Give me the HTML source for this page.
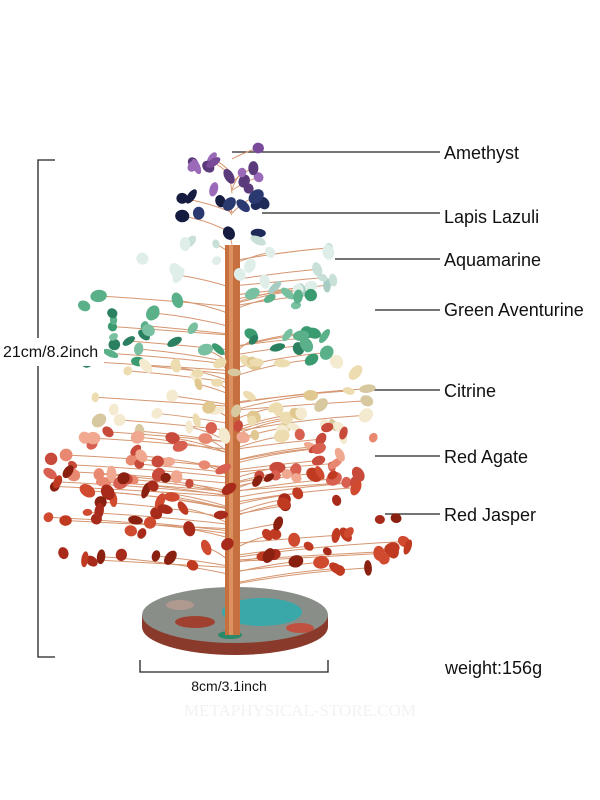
<!DOCTYPE html>
<html><head><meta charset="utf-8"><style>
html,body{margin:0;padding:0;background:#fff;}
body{width:600px;height:800px;position:relative;overflow:hidden;font-family:"Liberation Sans",sans-serif;}
.l{position:absolute;left:444px;font-size:18px;color:#111;line-height:1;}
</style></head><body>
<svg id="s" width="600" height="800" style="position:absolute;left:0;top:0">
<g stroke="#222" stroke-width="1.3" fill="none">
<path d="M55 160H38V657H55"/>
<path d="M140 660V672H328V660"/>
<path d="M232 152H440M262 213H440M335 259H440M375 310H440M365 390H440M375 456H440M385 514H440"/>
</g>
<g id="br" stroke="#d69670" stroke-width="1" fill="none"></g>
<ellipse cx="235" cy="627" rx="93" ry="28" fill="#8a3a2a"/>
<rect x="142" y="615" width="186" height="12" fill="#8a3a2a"/>
<ellipse cx="235" cy="615" rx="93" ry="28" fill="#8a8e88"/>
<ellipse cx="262" cy="612" rx="40" ry="14" fill="#3aa8a8"/>
<ellipse cx="195" cy="622" rx="20" ry="6" fill="#a04030"/>
<ellipse cx="180" cy="605" rx="14" ry="5" fill="#b09a90"/>
<ellipse cx="300" cy="628" rx="14" ry="5" fill="#c05040"/>
<ellipse cx="230" cy="635" rx="12" ry="4" fill="#2a8a6a"/>
<rect x="225" y="245" width="15" height="390" fill="#c5703e"/>
<rect x="229" y="245" width="4" height="390" fill="#dd9060"/>
<g id="st"></g>
<rect x="0" y="338" width="104" height="28" fill="#fff"/>
<text x="3" y="357" font-size="16" fill="#111" font-family="Liberation Sans">21cm/8.2inch</text>
<text x="229" y="691" font-size="14" fill="#111" text-anchor="middle" font-family="Liberation Sans">8cm/3.1inch</text>
<text x="300" y="716" font-size="17" fill="#f2f2f2" text-anchor="middle" font-family="Liberation Serif">METAPHYSICAL-STORE.COM</text>
</svg>
<div class="l" style="top:144px">Amethyst</div>
<div class="l" style="top:208px">Lapis Lazuli</div>
<div class="l" style="top:251px">Aquamarine</div>
<div class="l" style="top:301px">Green Aventurine</div>
<div class="l" style="top:382px">Citrine</div>
<div class="l" style="top:448px">Red Agate</div>
<div class="l" style="top:506px">Red Jasper</div>
<div class="l" style="top:659px;left:445px">weight:156g</div>
<script>
var seed=7;function r(){seed=(seed*16807)%2147483647;return seed/2147483647;}
var ns="http://www.w3.org/2000/svg",st=document.getElementById('st'),br=document.getElementById('br');
var tiers=[
[148,192,180,265,14,['#7a4a9a','#9a6ab8','#5a3a7a']],
[195,238,182,266,12,['#1e2a5a','#2a3a70','#151c40']],
[240,292,125,345,22,['#c8e0d8','#a8ccc4','#dfeee8']],
[292,362,75,382,40,['#3a9a70','#5ab088','#2a8060','#78c0a0']],
[360,440,95,375,55,['#ecdcb0','#e0c890','#f4ead0','#d8c8a0']],
[425,485,50,388,55,['#d86050','#e88870','#c84a3a','#f0a890']],
[470,572,45,412,75,['#a82a1a','#c03a22','#8a2010','#d04a30']]];
tiers.forEach(function(t){
 for(var i=0;i<t[4];i++){
  var y=t[0]+r()*(t[1]-t[0]);
  var w=(t[3]-t[2])/2, c=(t[3]+t[2])/2;
  var x=c+(r()*2-1)*w;
  if(i%2==0){
  var p=document.createElementNS(ns,'path');
  p.setAttribute('d','M232 '+(y+8+r()*10)+' Q'+((x+232)/2)+' '+(y+4)+' '+x+' '+y);
  br.appendChild(p);}
  var e=document.createElementNS(ns,'ellipse');
  e.setAttribute('cx',x);e.setAttribute('cy',y);
  e.setAttribute('rx',4.5+r()*4);e.setAttribute('ry',3.5+r()*3);
  e.setAttribute('transform','rotate('+(r()*180)+' '+x+' '+y+')');
  e.setAttribute('fill',t[5][Math.floor(r()*t[5].length)]);
  st.appendChild(e);
 }
});
</script>
</body></html>
